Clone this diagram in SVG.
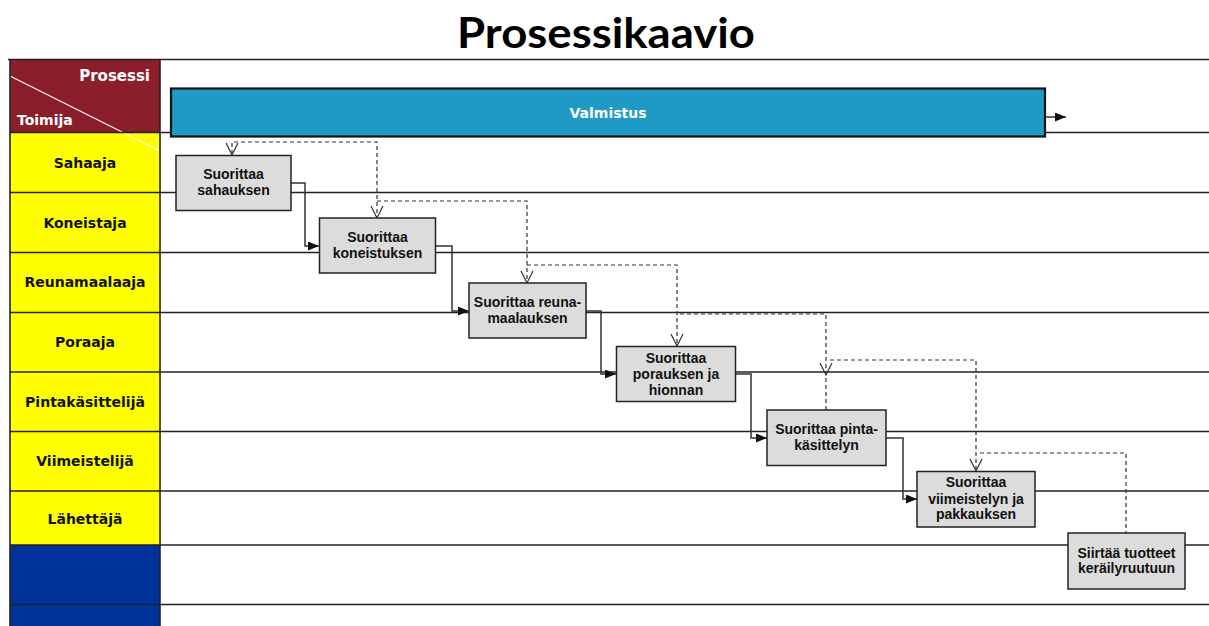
<svg xmlns="http://www.w3.org/2000/svg" width="1209" height="626" viewBox="0 0 1209 626">
<style>
.lane{stroke:#222;stroke-width:1.6;fill:none}
.hdr{font-family:"DejaVu Sans",sans-serif;font-weight:bold;font-size:14px;fill:#111;text-anchor:middle}
.node rect{fill:#DCDCDC;stroke:#222;stroke-width:1.5}
.node text{font-family:"Liberation Sans",Arial,sans-serif;font-weight:bold;font-size:14px;fill:#111;text-anchor:middle}
.flow{fill:none;stroke:#333;stroke-width:1.5}
.msg{fill:none;stroke:#333;stroke-width:1.2;stroke-dasharray:4,3}
.varrow{fill:none;stroke:#333;stroke-width:1.2}
</style>
<defs>
<marker id="tri" markerUnits="userSpaceOnUse" markerWidth="12" markerHeight="10" refX="11" refY="4.5" orient="auto">
<path d="M0,0 L11,4.5 L0,9 z" fill="#111"/>
</marker>
<path id="vh" class="varrow" d="M-6,-12 L0,0 L6,-12"/>
</defs>
<rect width="1209" height="626" fill="#fff"/>
<text x="606" y="48" font-family="Lato,'Open Sans',sans-serif" font-weight="bold" font-size="42" textLength="298" lengthAdjust="spacingAndGlyphs" text-anchor="middle" fill="#000">Prosessikaavio</text>

<g id="lanes">
<rect x="10" y="59" width="150" height="73.5" fill="#8B1E2B"/>
<rect x="10" y="132.5" width="150" height="412.5" fill="#FFFF00"/>
<rect x="10" y="545" width="150" height="81" fill="#003399"/>
<line x1="10" y1="76" x2="160" y2="151" stroke="#fff" stroke-width="1.2"/>
<line class="lane" x1="8" y1="59.5" x2="1209" y2="59.5" stroke-width="2.2"/>
<line class="lane" x1="10" y1="132.5" x2="1209" y2="132.5"/>
<line class="lane" x1="10" y1="192.5" x2="1209" y2="192.5"/>
<line class="lane" x1="10" y1="252.5" x2="1209" y2="252.5"/>
<line class="lane" x1="10" y1="312.5" x2="1209" y2="312.5"/>
<line class="lane" x1="10" y1="372" x2="1209" y2="372"/>
<line class="lane" x1="10" y1="431.5" x2="1209" y2="431.5"/>
<line class="lane" x1="10" y1="491" x2="1209" y2="491"/>
<line class="lane" x1="10" y1="545" x2="1209" y2="545"/>
<line class="lane" x1="10" y1="604.5" x2="1209" y2="604.5"/>
<line class="lane" x1="10" y1="59" x2="10" y2="626" stroke-width="2.2"/>
<line class="lane" x1="160" y1="59" x2="160" y2="626" stroke="#555" stroke-width="1.2"/>
<text x="150" y="81" font-family="'DejaVu Sans',sans-serif" font-weight="bold" font-size="15" fill="#fff" text-anchor="end">Prosessi</text>
<text x="17" y="125" font-family="'DejaVu Sans',sans-serif" font-weight="bold" font-size="14" fill="#fff">Toimija</text>
<text class="hdr" x="85" y="168">Sahaaja</text>
<text class="hdr" x="85" y="228">Koneistaja</text>
<text class="hdr" x="85" y="287">Reunamaalaaja</text>
<text class="hdr" x="85" y="347">Poraaja</text>
<text class="hdr" x="85" y="407">Pintakäsittelijä</text>
<text class="hdr" x="85" y="466">Viimeistelijä</text>
<text class="hdr" x="85" y="524">Lähettäjä</text>
</g>

<g id="valmistus">
<rect x="171" y="88.5" width="874" height="48" fill="#1F9AC6" stroke="#111" stroke-width="2.2"/>
<text x="608" y="118" font-family="'DejaVu Sans',sans-serif" font-weight="bold" font-size="14" fill="#fff" text-anchor="middle">Valmistus</text>
</g>

<g id="connectors">
<path class="flow" d="M1046,117 H1066" marker-end="url(#tri)"/>
<path class="flow" d="M291,183 H305 V246 H319" marker-end="url(#tri)"/>
<path class="flow" d="M435,246 H452 V311 H469" marker-end="url(#tri)"/>
<path class="flow" d="M586,311 H601 V374 H616" marker-end="url(#tri)"/>
<path class="flow" d="M736,374 H751 V438 H767" marker-end="url(#tri)"/>
<path class="flow" d="M886,438 H903 V499 H917" marker-end="url(#tri)"/>
<path class="msg" d="M232,154 V142 H377 V217"/>
<path class="msg" d="M377,201 H527 V282"/>
<path class="msg" d="M527,265 H677 V345"/>
<path class="msg" d="M680,314 H826 V410"/>
<path class="msg" d="M830,360 H976 V470"/>
<path class="msg" d="M980,453 H1126 V533"/>
<use href="#vh" x="232" y="155"/>
<use href="#vh" x="377" y="218"/>
<use href="#vh" x="527" y="283"/>
<use href="#vh" x="677" y="346"/>
<use href="#vh" x="826" y="375"/>
<use href="#vh" x="976" y="471"/>
</g>

<g id="n1" class="node"><rect x="176" y="155.5" width="115" height="55"/><text x="233.5" y="179">Suorittaa</text><text x="233.5" y="194.5">sahauksen</text></g>
<g id="n2" class="node"><rect x="319.5" y="218" width="116" height="55"/><text x="377.5" y="242">Suorittaa</text><text x="377.5" y="257.5">koneistuksen</text></g>
<g id="n3" class="node"><rect x="469" y="283" width="117" height="55"/><text x="527.5" y="306.5">Suorittaa reuna-</text><text x="527.5" y="322.5">maalauksen</text></g>
<g id="n4" class="node"><rect x="616.5" y="346.5" width="119" height="55"/><text x="676" y="363">Suorittaa</text><text x="676" y="379">porauksen  ja</text><text x="676" y="394.5">hionnan</text></g>
<g id="n5" class="node"><rect x="767" y="410" width="119" height="55.5"/><text x="826.5" y="434">Suorittaa pinta-</text><text x="826.5" y="450">käsittelyn</text></g>
<g id="n6" class="node"><rect x="917" y="471.5" width="118" height="55.5"/><text x="976" y="487">Suorittaa</text><text x="976" y="503.5">viimeistelyn  ja</text><text x="976" y="519">pakkauksen</text></g>
<g id="n7" class="node"><rect x="1068" y="533" width="117" height="56"/><text x="1126.5" y="557.5">Siirtää tuotteet</text><text x="1126.5" y="573">keräilyruutuun</text></g>
</svg>
